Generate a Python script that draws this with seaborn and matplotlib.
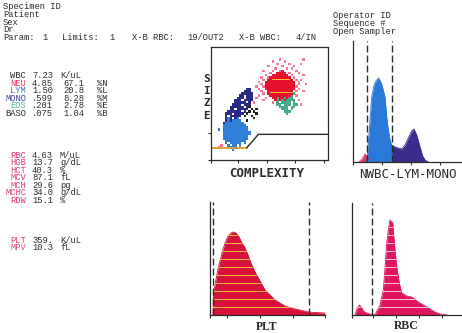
import matplotlib
matplotlib.use("Agg")
import matplotlib.pyplot as plt
import numpy as np
import pandas as pd
import seaborn as sns

sns.set_theme(style="white")
plt.rcParams["font.family"] = ["Liberation Mono", "DejaVu Sans Mono"]

W, H = 462, 333
INK = "#2b2b2b"

# ---------------- report header ----------------
specimen_lines = ["Specimen ID", "Patient", "Sex", "Dr"]
operator_lines = ["Operator ID", "Sequence #", "Open Sampler"]
param_words = ["Param:", "1", "Limits:", "1", "X-B RBC:", "19/OUT2", "X-B WBC:", "4/IN"]

# ---------------- results ----------------
wbc_names = ["WBC", "NEU", "LYM", "MONO", "EOS", "BASO"]
wbc_counts = ["7.23", "4.85", "1.50", ".599", ".201", ".075"]
wbc_percent = ["", "67.1", "20.8", "8.28", "2.78", "1.04"]
wbc_units = ["K/uL", "%N", "%L", "%M", "%E", "%B"]

rbc_names = ["RBC", "HGB", "HCT", "MCV", "MCH", "MCHC", "RDW"]
rbc_values = ["4.63", "13.7", "40.3", "87.1", "29.6", "34.0", "15.1"]
rbc_units = ["M/uL", "g/dL", "%", "fL", "pg", "g/dL", "%"]

plt_names = ["PLT", "MPV"]
plt_values = ["359.", "10.3"]
plt_units = ["K/uL", "fL"]

# ---------------- WBC scatter (size vs complexity) ----------------
# event map: one character per 2x2 cell, columns from complexity 5, rows from size 89 downward
# r=NEU  p=NEU sparse  n=MONO  b=LYM  g=EOS  k=BASO
event_map = [
    ".......... .......... .......p.. .......p..",
    ".......... .......... ....p....p ..........",
    ".......... .......... ......p... .p....p...",
    ".......... .......... ..p.....p. ...p......",
    ".......... .......... .....p.... p.p.......",
    ".......... .......... p...p..pr. ....p.....",
    ".......... .......... ...p..rrrr .p...p....",
    ".......... .......... .p..rrrrrr r.p....p..",
    ".......... .........p ..prrrrrrr rr.p......",
    ".......... .......... p.rrrrrrrr rrr.p.p...",
    ".......... ........p. .rrrrrrrrr rrrr.p....",
    ".......... .........p .rrrrrrrrr rrrr.p..p.",
    ".......... .......p.. prrrrrrrrr rrrrp.....",
    ".......... ...nn...p. .rrrrrrrrr rrrr.p....",
    ".......... ..nnn....p ..rrrrrrrr rrr.p..p..",
    ".......... .nnnnn.... p.rrrrrrrr rrrg......",
    ".......... nn.nnn..p. ...rrrrrrr rrg.p.....",
    ".........n nn.nnn.p.. .p..rrgrrg rgg.......",
    "........nn n.nnnn.... p....rgrgr gggg.p....",
    "........nn nnn.n.p... ....p.g.gg gg.g......",
    ".......nnn n.nnn..... ......gg.g gg.gg.p...",
    "......nnnn nn.nk..... .......ggg g.gg......",
    "......nn.n nnnn.k.k.. ........gg g.g.......",
    ".....nnnnn n.n.k.k... .........g gg........",
    "....nnn.nn nn.k...k.. .......... g.........",
    "....n.nnnn n.k..k.... .......... ..........",
    "....nbn.nb ......k... .......... ..........",
    "....nbnbbb b..k...... .......... ..........",
    "...nbbbbbb bb........ .......... ..........",
    "...bbbbbbb bbb....... .......... ..........",
    "...bbbbbbb bbbb...... .......... ..........",
    ".b.bbbbbbb bbbb...... .......... ..........",
    "...bbbbbbb bbbbb..... .......... ..........",
    "...bbbbbbb bbbbb..... .......... ..........",
    "...bbbbbbb bbbb...... .......... ..........",
    "...bbbbbbb bbbb...... .......... ..........",
    "....bbbbbb bbb....... .......... ..........",
    "....b.bbbb b.b....... .......... ..........",
    "..p..b.bb. b......... .......... ..........",
    ".p....b.b. p......... .......... ..........",
    ".......b.. .......... .......... ..........",
]
gate_x = [0, 30.5, 40.5, 100]
gate_y = [10.8, 10.8, 22.7, 22.7]

# ---------------- NWBC-LYM-MONO histogram ----------------
nwbc_ch = [6, 9, 12, 14, 15.5]
nwbc_counts = [0, 3, 8, 6, 2]
lym_ch = [13.7, 14.3, 16.3, 18.7, 21.3, 23.7, 25.7, 28.7, 32, 33.7, 35.3, 37, 38.7]
lym_counts = [0, 5, 32, 65, 78, 82, 84, 78, 65, 45, 32, 22, 17]
mono_ch = [38.7, 42, 45.3, 48.7, 52, 55.3, 58.7, 61, 63.7, 67, 69.7, 72, 75.3]
mono_counts = [17, 15, 14, 13, 17, 24, 31, 33, 27, 15, 6, 2, 0]
wbc_gates = [14, 39]

# ---------------- PLT histogram ----------------
plt_ch = [3, 3.5, 8, 12, 15, 18, 21, 23.3, 26, 29, 32, 35, 38, 41.7, 45, 48.3,
          51.7, 55, 60, 65, 70, 75, 80, 85, 90, 98.3, 105, 115]
plt_counts = [0, 22, 46, 62, 72, 79, 82, 83, 82, 78, 72, 67, 60, 50, 43, 37,
              31, 25, 20, 15, 12, 9, 7.5, 6, 5, 3, 2.5, 2]
plt_gates = [3, 99]

# ---------------- RBC histogram ----------------
rbc_ch = [3, 5.3, 7.3, 9.3, 11.3, 14.7, 18, 21.3, 23, 24, 28, 31.3, 33, 34.7, 36.3, 38,
          40.7, 42.3, 44.7, 47.3, 49.7, 54.7, 59.7, 66.3, 71.3, 76.3, 83, 88, 95]
rbc_counts = [0, 7, 10, 8, 4, 2, 1, 0.5, 0.5, 2, 10, 25, 47, 72, 85, 95,
              92, 72, 48, 32, 22, 19, 18, 13, 10, 7, 3, 1, 0]
rbc_gates = [20]

# =====================================================================
fig = plt.figure(figsize=(W / 100, H / 100), dpi=100)
fig.patch.set_facecolor("white")

TXT = 6.3


def box(l, t, r, b):
    return fig.add_axes([l / W, 1 - b / H, (r - l) / W, (b - t) / H])


def put(x, y, s, color=INK, size=TXT, ha="left", **kw):
    # y is the vertical centre of the capitals in pixels
    fig.text(x / W, 1 - (y + size * 0.41) / H, s, color=color, fontsize=size,
             ha=ha, va="baseline", **kw)


# ---- header ----
for y, s in zip([6.9, 14.5, 22.1, 29.7], specimen_lines):
    put(3, y, s)
for x, s in zip([3, 42, 62, 109, 132, 187, 239, 296], param_words):
    put(x, 37.4, s)
for y, s in zip([15, 23.5, 31.5], operator_lines):
    put(333, y, s)

# ---- results ----
wbc_colors = [INK, "#e8345c", "#3d6fd6", "#3b3b9c", "#52b4a4", INK]
for y, name, c, cnt, pct, unit in zip([75.5, 83, 90.5, 98, 105.5, 113], wbc_names,
                                      wbc_colors, wbc_counts, wbc_percent, wbc_units):
    put(26, y, name, color=c, ha="right")
    put(32, y, cnt)
    if pct:
        put(63, y, pct)
        put(97, y, unit)
    else:
        put(60, y, unit)

for y, name, v, unit in zip([155, 162.5, 170, 177.5, 185, 192.5, 200],
                            rbc_names, rbc_values, rbc_units):
    put(26, y, name, color="#e0357f", ha="right")
    put(32, y, v)
    put(60, y, unit)

for y, name, c, v, unit in zip([240, 247.5], plt_names, ["#e83a5a", "#e04a8a"],
                               plt_values, plt_units):
    put(26, y, name, color=c, ha="right")
    put(32, y, v)
    put(60, y, unit)

# ---- scatter ----
kind_order = ["b", "n", "k", "g", "p", "r"]
kind_colors = {"b": "#2f7fd8", "n": "#2b2a88", "k": "#1e1e1e",
               "g": "#4aa88e", "p": "#f27896", "r": "#e6122c"}
events = []
for r, row in enumerate(event_map):
    for k, ch in enumerate(row.replace(" ", "")):
        if ch != ".":
            events.append((5 + 2 * k, 89 - 2 * r, ch))
ev = pd.DataFrame(events, columns=["complexity", "size", "kind"])
ev["order"] = ev["kind"].map({c: i for i, c in enumerate(kind_order)})
ev = ev.sort_values("order", kind="stable")

ax = box(211, 47, 328, 160)
sns.scatterplot(data=ev, x="complexity", y="size", hue="kind", palette=kind_colors,
                marker="s", s=3.0, linewidth=0, legend=False, ax=ax)
for y, x0, x1 in [(72, 52, 67), (60, 50, 69)]:
    ax.plot([x0, x1], [y, y], color="#f2c230", lw=0.7)
sns.lineplot(x=gate_x[:2], y=gate_y[:2], color="#dc9a2c", lw=1.3, ax=ax)
sns.lineplot(x=gate_x[1:], y=gate_y[1:], color=INK, lw=1.0, sort=False, ax=ax)
ax.set_xlim(0, 100)
ax.set_ylim(0, 100)
ax.set_xlabel("")
ax.set_ylabel("")
for s in ax.spines.values():
    s.set_visible(True)
    s.set_color(INK)
    s.set_linewidth(0.9)
ax.set_xticks([0, 23, 48, 72, 97])
ax.set_yticks([0, 24])
ax.set_xticklabels([])
ax.set_yticklabels([])
ax.tick_params(bottom=True, left=True, direction="out", length=2.5, width=0.8, colors=INK)
ax.set_facecolor("none")

put(267, 173.5, "COMPLEXITY", size=9, family="DejaVu Sans Mono", weight="bold", ha="center")
for y, ch in zip([79, 91, 103, 116], "SIZE"):
    put(206.5, y, ch, size=8, family="DejaVu Sans Mono", weight="bold", ha="center")


# ---- histograms ----
def hist_axes(a, xmax, ymax, ticks):
    a.set_xlim(0, xmax)
    a.set_ylim(0, ymax)
    a.set_xlabel("")
    a.set_ylabel("")
    for s in ("top", "right"):
        a.spines[s].set_visible(False)
    for s in ("left", "bottom"):
        a.spines[s].set_visible(True)
        a.spines[s].set_color(INK)
        a.spines[s].set_linewidth(0.9)
    a.set_xticks(ticks)
    a.set_yticks([])
    a.set_xticklabels([])
    a.tick_params(axis="x", bottom=True, direction="out", length=2.5, width=0.8, colors=INK)
    a.set_facecolor("none")


def area(a, x, y, color, stripe=None, spacing=8):
    poly = a.fill_between(x, y, color=color, lw=0)
    sns.lineplot(x=x, y=y, color=color, lw=0.6, ax=a)
    if stripe:
        for h in np.arange(spacing, max(y), spacing):
            ln = a.axhline(h, color=stripe, lw=0.7)
            ln.set_clip_path(poly.get_paths()[0], poly.get_transform())


def gates(a, xs):
    for x in xs:
        a.axvline(x, color=INK, lw=1.0, dashes=(5, 2.2))


ax = box(353, 41, 462, 162)
area(ax, nwbc_ch, nwbc_counts, "#e8306a")
area(ax, lym_ch, lym_counts, "#2a78d8")
area(ax, mono_ch, mono_counts, "#3b2d8e")
gates(ax, wbc_gates)
hist_axes(ax, 109, 121, [0, 29, 58, 87])
put(408, 174, "NWBC-LYM-MONO", size=9, family="DejaVu Sans Mono", ha="center")

ax = box(210, 202, 325, 315)
area(ax, plt_ch, plt_counts, "#d8103c", stripe="#f2c040")
gates(ax, plt_gates)
hist_axes(ax, 115, 113, [0, 17, 50, 83, 115])
put(267, 327, "PLT", size=8.5, family="Liberation Serif", weight="bold", ha="center")

ax = box(352, 203, 462, 315)
area(ax, rbc_ch, rbc_counts, "#e0155f", stripe="#f6c6d6")
gates(ax, rbc_gates)
hist_axes(ax, 110, 112, [0, 21, 44, 67, 90])
put(406.5, 326, "RBC", size=8.5, family="Liberation Serif", weight="bold", ha="center")

fig.savefig("out.png", dpi=100, facecolor="white")
